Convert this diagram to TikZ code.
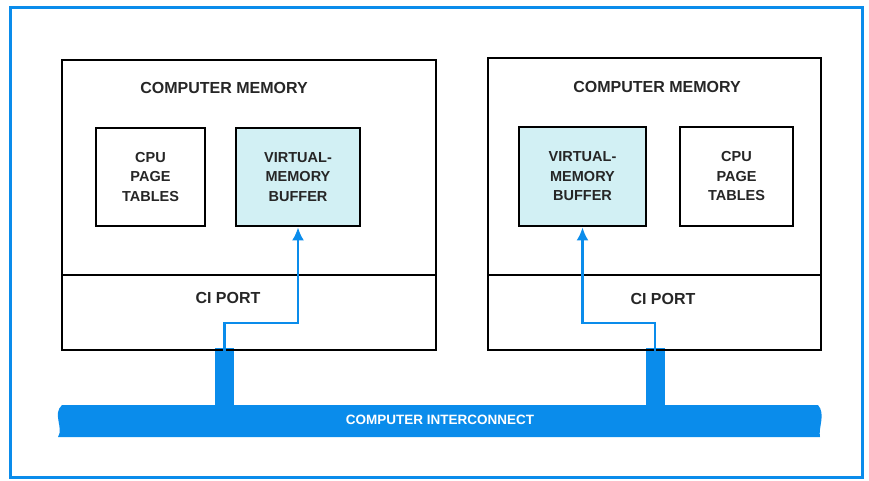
\documentclass[tikz,border=0pt]{standalone}
\usepackage{fontspec}
\setmainfont{Liberation Sans}
\usetikzlibrary{arrows.meta}
\definecolor{busblue}{HTML}{0A8CEB}
\definecolor{bufcyan}{HTML}{D2F0F4}
\definecolor{ink}{HTML}{262626}
\begin{document}
\begin{tikzpicture}[x=1pt,y=-1pt,
  box/.style={draw=black,line width=2.8pt,inner sep=0pt,text=ink,font=\bfseries\fontsize{14.5}{19.5}\selectfont,align=center},
  lbl/.style={text=ink,font=\bfseries\fontsize{16}{18}\selectfont},
  stub/.style={fill=busblue,inner sep=0pt,minimum width=19,minimum height=57},
  link/.style={draw=busblue,line width=2.3pt,-{Latex[length=13pt,width=12pt]}}]
\useasboundingbox (0,0) rectangle (869,481);
\draw[busblue,line width=3pt] (10,8) rectangle (862,477);
\node[stub] (stubL) at (224.5,376.5){};\node[stub] (stubR) at (655,376.5){};
\node[box,minimum width=374,minimum height=215] (memL) at (249,167.5){};
\node[box,minimum width=374,minimum height=75] (portL) at (249,312.5){};
\node[box,minimum width=333,minimum height=217] (memR) at (654.5,166.5){};
\node[box,minimum width=333,minimum height=75] (portR) at (654.5,312.5){};
\node[lbl] (titL) at (224,88){COMPUTER MEMORY};\node[lbl] (titR) at (657,87){COMPUTER MEMORY};
\node[lbl] (ciL) at (228,298){CI PORT};\node[lbl] (ciR) at (663,299){CI PORT};
\node[box,minimum width=109,minimum height=98] (cpuL) at (150.5,177){CPU\\PAGE\\TABLES};
\node[box,fill=bufcyan,minimum width=124,minimum height=98] (bufL) at (298,177){VIRTUAL-\\MEMORY\\BUFFER};
\node[box,fill=bufcyan,minimum width=127,minimum height=99] (bufR) at (582.5,176.5){VIRTUAL-\\MEMORY\\BUFFER};
\node[box,minimum width=113,minimum height=99] (cpuR) at (736.5,176.5){CPU\\PAGE\\TABLES};
\fill[busblue] (62,405) -- (818,405) .. controls (826,414) and (818,428) .. (820,437) -- (58,437) .. controls (64,428) and (52,414) .. cycle;
\node[text=white,font=\bfseries\fontsize{13.5}{16}\selectfont] (bus) at (440,420){COMPUTER INTERCONNECT};
\draw[link] (portL.south -| stubL) -- (stubL.north |- 0,323) -| (bufL.south);
\draw[link] (portR.south -| stubR) -- (stubR.north |- 0,323) -| (bufR.south);
\end{tikzpicture}
\end{document}
